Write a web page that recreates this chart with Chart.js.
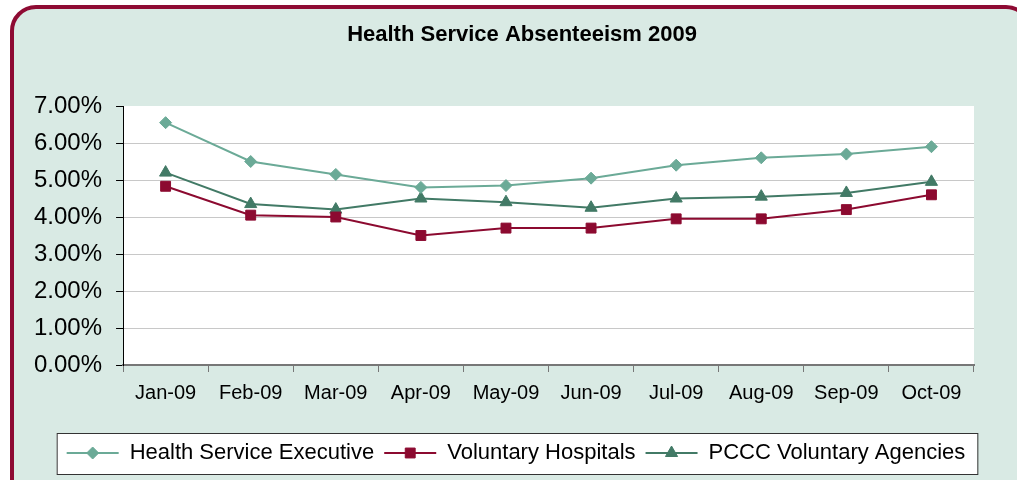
<!DOCTYPE html>
<html>
<head>
<meta charset="utf-8">
<script src="https://cdn.jsdelivr.net/npm/chart.js@4/dist/chart.umd.min.js"></script>
<style>
  html, body { margin: 0; padding: 0; background: #fff; overflow: hidden; }
  #frame {
    position: absolute; left: 10px; top: 5px;
    width: 1022px; height: 560px; box-sizing: border-box;
    border: 4px solid #8E0B33; border-radius: 26px;
    background: #D9EAE4;
  }
  #chart { position: absolute; left: 0; top: 0; }
</style>
</head>
<body>
<div id="frame"></div>
<canvas id="chart" width="1017" height="480"></canvas>
<script>
const months = ["Jan-09", "Feb-09", "Mar-09", "Apr-09", "May-09", "Jun-09", "Jul-09", "Aug-09", "Sep-09", "Oct-09"];
const hse = [6.55, 5.50, 5.15, 4.80, 4.85, 5.05, 5.40, 5.60, 5.70, 5.90];
const voluntaryHosp = [4.83, 4.05, 4.00, 3.50, 3.70, 3.70, 3.95, 3.95, 4.20, 4.60];
const pccc = [5.20, 4.35, 4.20, 4.50, 4.40, 4.25, 4.50, 4.55, 4.65, 4.95];
const seriesNames = ["Health Service Executive", "Voluntary Hospitals", "PCCC Voluntary Agencies"];

const FONT = "'Liberation Sans', Arial, sans-serif";

function serie(label, data, color, style, radius) {
  return {
    label, data,
    borderColor: color, backgroundColor: color,
    borderWidth: 2,
    pointStyle: style, pointRadius: radius,
    pointBackgroundColor: color, pointBorderColor: color, pointBorderWidth: 1,
    tension: 0
  };
}

// white plot area + white legend box with a border, title/legend nudged right
const backdrop = {
  id: "backdrop",
  afterLayout(chart) {
    chart.titleBlock.left += 25;
    chart.titleBlock.right += 25;
    chart.legend.left += 19;
    chart.legend.right += 19;
  },
  beforeDraw(chart) {
    const { ctx, chartArea: a } = chart;
    ctx.save();
    ctx.fillStyle = "#fff";
    ctx.fillRect(a.left, a.top, a.right - a.left, a.bottom - a.top);
    const hb = chart.legend.legendHitBoxes;
    if (hb && hb.length) {
      const first = hb[0], last = hb[hb.length - 1];
      const x0 = first.left - 10, x1 = last.left + last.width + 12;
      const y0 = first.top - 9, y1 = first.top + first.height + 10;
      ctx.fillRect(x0, y0, x1 - x0, y1 - y0);
      ctx.strokeStyle = "#333";
      ctx.lineWidth = 1;
      ctx.strokeRect(x0 + 0.5, y0 + 0.5, x1 - x0, y1 - y0);
    }
    ctx.restore();
  },
  afterDraw(chart) {
    // marker in the middle of each legend line
    const { ctx } = chart;
    const hb = chart.legend.legendHitBoxes;
    const bw = chart.options.plugins.legend.labels.boxWidth;
    chart.data.datasets.forEach((ds, i) => {
      const b = hb[i];
      ctx.save();
      ctx.fillStyle = ds.borderColor;
      ctx.strokeStyle = ds.borderColor;
      Chart.helpers.drawPoint(ctx, {
        pointStyle: ds.pointStyle, radius: ds.pointRadius, rotation: 0, borderWidth: 1
      }, b.left + bw / 2, b.top + b.height / 2);
      ctx.restore();
    });
  }
};

new Chart(document.getElementById("chart"), {
  type: "line",
  data: {
    labels: months,
    datasets: [
      serie(seriesNames[0], hse, "#6BAA97", "rectRot", 6),
      serie(seriesNames[1], voluntaryHosp, "#8C0A30", "rect", 7),
      serie(seriesNames[2], pccc, "#427A66", "triangle", 7)
    ]
  },
  options: {
    responsive: false,
    animation: false,
    layout: { padding: { left: 20, right: 43, top: 0, bottom: 6 } },
    plugins: {
      tooltip: { enabled: false },
      title: {
        display: true,
        text: "Health Service Absenteeism 2009",
        color: "#000",
        font: { family: FONT, size: 22, weight: "bold" },
        padding: { top: 22, bottom: 57.6 }
      },
      legend: {
        position: "bottom",
        labels: {
          color: "#000",
          font: { family: FONT, size: 22 },
          boxWidth: 52,
          boxHeight: 0,
          padding: 10
        }
      }
    },
    scales: {
      x: {
        offset: true,
        grid: {
          offset: true, drawOnChartArea: false, drawTicks: true,
          tickLength: 7, tickColor: "#777"
        },
        border: { color: "#777", width: 2 },
        ticks: { color: "#000", font: { family: FONT, size: 20 }, padding: 9, maxRotation: 0, autoSkip: false },
        afterFit(scale) { scale.height += 18; }
      },
      y: {
        min: 0, max: 7,
        ticks: {
          stepSize: 1, color: "#000", padding: 14, autoSkip: false,
          font: { family: FONT, size: 24 },
          callback: v => v.toFixed(2) + "%"
        },
        grid: {
          color: c => (c.tick && (c.tick.value === 0 || c.tick.value === 7)) ? "rgba(0,0,0,0)" : "#C8C8C8",
          tickColor: "#000", tickLength: 7
        },
        border: { color: "#000", width: 1 }
      }
    }
  },
  plugins: [backdrop]
});
</script>
</body>
</html>
